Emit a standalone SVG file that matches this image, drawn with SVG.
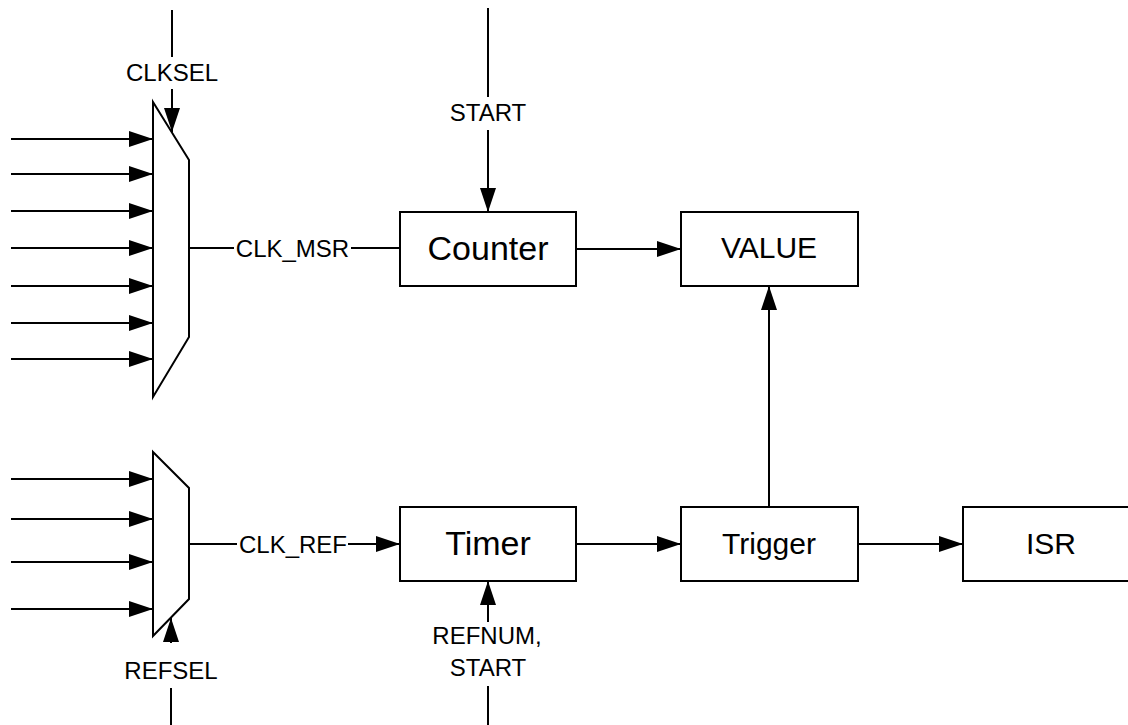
<svg xmlns="http://www.w3.org/2000/svg" width="1128" height="725" viewBox="0 0 1128 725">
<style>
.ln{stroke:#000;stroke-width:2;fill:none}
.bx{stroke:#000;stroke-width:2;fill:#fff}
.t{font-family:"Liberation Sans",Arial,sans-serif;fill:#000;text-anchor:middle}
.s{font-size:24px}
.m{font-size:30px}
.b{font-size:34px}
</style>
<defs>
<marker id="arr" markerWidth="24" markerHeight="16" refX="24" refY="8" orient="auto" markerUnits="userSpaceOnUse">
<path d="M0,0 L24,8 L0,16 z" fill="#000"/>
</marker>
</defs>
<rect width="1128" height="725" fill="#fff"/>
<g id="connectors">
<g class="ln" marker-end="url(#arr)">
<line x1="11" y1="139" x2="153" y2="139"/>
<line x1="11" y1="174" x2="153" y2="174"/>
<line x1="11" y1="211" x2="153" y2="211"/>
<line x1="11" y1="248" x2="153" y2="248"/>
<line x1="11" y1="286" x2="153" y2="286"/>
<line x1="11" y1="323" x2="153" y2="323"/>
<line x1="11" y1="359" x2="153" y2="359"/>
<line x1="11" y1="479" x2="153" y2="479"/>
<line x1="11" y1="519" x2="153" y2="519"/>
<line x1="11" y1="562" x2="153" y2="562"/>
<line x1="11" y1="609" x2="153" y2="609"/>
<line x1="172" y1="89" x2="172" y2="132"/>
<line x1="488" y1="130" x2="488" y2="212"/>
<line x1="576" y1="249" x2="681" y2="249"/>
<line x1="769" y1="507" x2="769" y2="286"/>
<line x1="348" y1="544" x2="400" y2="544"/>
<line x1="576" y1="544" x2="681" y2="544"/>
<line x1="858" y1="544" x2="963" y2="544"/>
<line x1="488" y1="622" x2="488" y2="581"/>
<line x1="171" y1="643" x2="171" y2="618"/>
</g>
<g class="ln">
<line x1="172" y1="10" x2="172" y2="57"/>
<line x1="488" y1="8" x2="488" y2="97"/>
<line x1="189" y1="248" x2="234" y2="248"/>
<line x1="351" y1="248" x2="400" y2="248"/>
<line x1="189" y1="544" x2="237" y2="544"/>
<line x1="488" y1="686" x2="488" y2="725"/>
<line x1="171" y1="688" x2="171" y2="725"/>
</g>
<g class="t s">
<text x="172" y="81">CLKSEL</text>
<text x="488" y="121">START</text>
<text x="292.5" y="257">CLK_MSR</text>
<text x="293" y="553">CLK_REF</text>
<text x="487" y="644">REFNUM,</text>
<text x="488" y="676">START</text>
<text x="171" y="679">REFSEL</text>
</g>
</g>
<g id="mux_clk">
<polygon class="bx" points="153,102 189,160 189,337 153,397"/>
</g>
<g id="mux_ref">
<polygon class="bx" points="153,452 189,488 189,599 153,636"/>
</g>
<g id="counter">
<rect class="bx" x="400" y="212" width="176" height="74"/>
<text class="t b" x="488" y="260">Counter</text>
</g>
<g id="value">
<rect class="bx" x="681" y="212" width="177" height="74"/>
<text class="t m" x="769" y="258">VALUE</text>
</g>
<g id="timer">
<rect class="bx" x="400" y="507" width="176" height="74"/>
<text class="t b" x="488" y="555">Timer</text>
</g>
<g id="trigger">
<rect class="bx" x="681" y="507" width="177" height="74"/>
<text class="t m" x="769" y="554">Trigger</text>
</g>
<g id="isr">
<rect class="bx" x="963" y="507" width="177" height="74"/>
<text class="t m" x="1051" y="554">ISR</text>
</g>
</svg>
